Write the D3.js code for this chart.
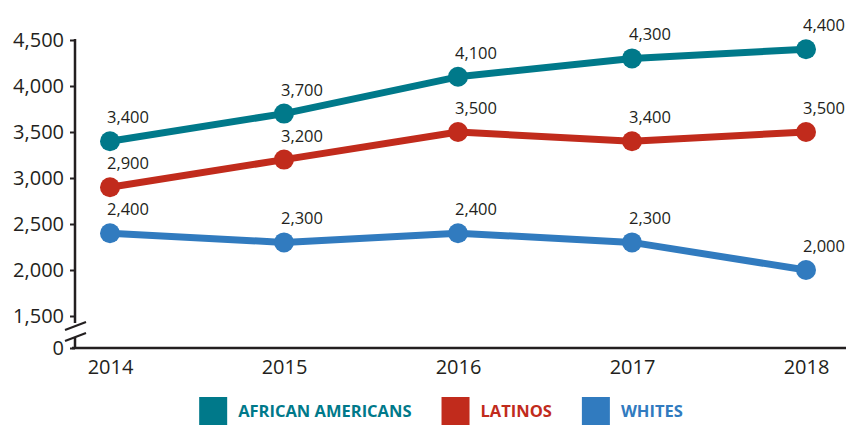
<!DOCTYPE html>
<html>
<head>
<meta charset="utf-8">
<script src="https://cdn.jsdelivr.net/npm/d3@7"></script>
<style>
  html, body { margin: 0; padding: 0; background: #fff; }
  svg { display: block; }
  svg text { font-family: "Open Sans", "Noto Sans", sans-serif; }
</style>
</head>
<body>
<svg id="chart" width="851" height="427"></svg>
<script>
// Years along the horizontal axis
const years = [2014, 2015, 2016, 2017, 2018];

// Series values per year
const africanAmericans = [3400, 3700, 4100, 4300, 4400];
const latinos = [2900, 3200, 3500, 3400, 3500];
const whites = [2400, 2300, 2400, 2300, 2000];

// Series names and colours
const seriesNames = ["AFRICAN AMERICANS", "LATINOS", "WHITES"];
const seriesColors = ["#00798a", "#c12b1c", "#317bbf"];

// Vertical axis ticks (0 sits below a break)
const yTicks = [0, 1500, 2000, 2500, 3000, 3500, 4000, 4500];

const series = [africanAmericans, latinos, whites].map((vals, i) => ({
  name: seriesNames[i],
  color: seriesColors[i],
  points: vals.map((v, j) => ({ year: years[j], value: v }))
}));

const svg = d3.select("#chart");
const ink = "#231f20";

const axisX = 75;          // vertical axis position
const plotTop = 40;        // top tick
const plotBottom = 348;    // baseline (value 0)
const breakGap = 32;       // space taken by the axis break

const x = d3.scalePoint()
  .domain(years)
  .range([110, 806]);

// Piecewise scale: 0 sits just below the break, 1500..4500 spans the plot
const y = d3.scaleLinear()
  .domain([0, 1500, 4500])
  .range([plotBottom, plotBottom - breakGap, plotTop]);

// ---- Y axis ----
const yAxis = svg.append("g")
  .attr("transform", `translate(${axisX},0)`)
  .call(d3.axisLeft(y).tickValues(yTicks).tickFormat(d3.format(",")).tickSize(5).tickPadding(6));
yAxis.attr("font-family", null).attr("font-size", null);
yAxis.select(".domain").remove();
yAxis.selectAll(".tick line").attr("stroke", ink).attr("stroke-width", 2);
yAxis.selectAll(".tick text")
  .attr("fill", ink)
  .style("font-size", "20px");

// axis line with a break between 0 and 1500
svg.append("line")
  .attr("x1", axisX).attr("x2", axisX)
  .attr("y1", y(4500) - 1).attr("y2", y(1500) + 7)
  .attr("stroke", ink).attr("stroke-width", 2.5);
svg.append("line")
  .attr("x1", axisX).attr("x2", axisX)
  .attr("y1", y(0) - 11).attr("y2", y(0))
  .attr("stroke", ink).attr("stroke-width", 2.5);
[0, 11].forEach(off => {
  svg.append("line")
    .attr("x1", axisX - 10).attr("y1", y(1500) + 14 + off)
    .attr("x2", axisX + 11).attr("y2", y(1500) + 6 + off)
    .attr("stroke", ink).attr("stroke-width", 2.2);
});

// ---- X axis ----
svg.append("line")
  .attr("x1", axisX - 3).attr("x2", 846)
  .attr("y1", y(0)).attr("y2", y(0))
  .attr("stroke", ink).attr("stroke-width", 2.5);

const xAxis = svg.append("g")
  .attr("transform", `translate(0,${y(0)})`)
  .call(d3.axisBottom(x).tickSize(0).tickPadding(12));
xAxis.attr("font-family", null).attr("font-size", null);
xAxis.select(".domain").remove();
xAxis.selectAll(".tick text")
  .attr("fill", ink)
  .style("font-size", "20px");

// ---- Lines, points, value labels ----
const line = d3.line()
  .x(d => x(d.year))
  .y(d => y(d.value));

const fmt = d3.format(",");

const groups = svg.selectAll(".series")
  .data(series)
  .join("g")
  .attr("class", "series");

groups.append("path")
  .attr("d", d => line(d.points))
  .attr("fill", "none")
  .attr("stroke", d => d.color)
  .attr("stroke-width", 7)
  .attr("stroke-linejoin", "round");

groups.selectAll("circle")
  .data(d => d.points.map(p => ({ ...p, color: d.color })))
  .join("circle")
  .attr("cx", d => x(d.year))
  .attr("cy", d => y(d.value))
  .attr("r", 10)
  .attr("fill", d => d.color);

groups.selectAll("text.value")
  .data(d => d.points)
  .join("text")
  .attr("class", "value")
  .attr("x", d => x(d.year) + 18)
  .attr("y", d => y(d.value) - 18)
  .attr("text-anchor", "middle")
  .attr("fill", ink)
  .style("font-size", "16.5px")
  .text(d => fmt(d.value));

// ---- Legend ----
const legend = svg.append("g");
const swatch = 28, textGap = 11, itemGap = 30;
const items = legend.selectAll("g")
  .data(series)
  .join("g");
items.append("rect")
  .attr("width", swatch).attr("height", swatch)
  .attr("fill", d => d.color);
items.append("text")
  .attr("x", swatch + textGap)
  .attr("y", swatch / 2)
  .attr("dy", "0.36em")
  .attr("fill", d => d.color)
  .style("font-size", "16.5px")
  .style("font-weight", "700")
  .text(d => d.name);

let cursor = 0;
items.each(function () {
  const w = d3.select(this).select("text").node().getComputedTextLength();
  d3.select(this).attr("transform", `translate(${cursor},0)`);
  cursor += swatch + textGap + w + itemGap;
});
const legendWidth = cursor - itemGap;
legend.attr("transform", `translate(${441 - legendWidth / 2},397)`);
</script>
</body>
</html>
